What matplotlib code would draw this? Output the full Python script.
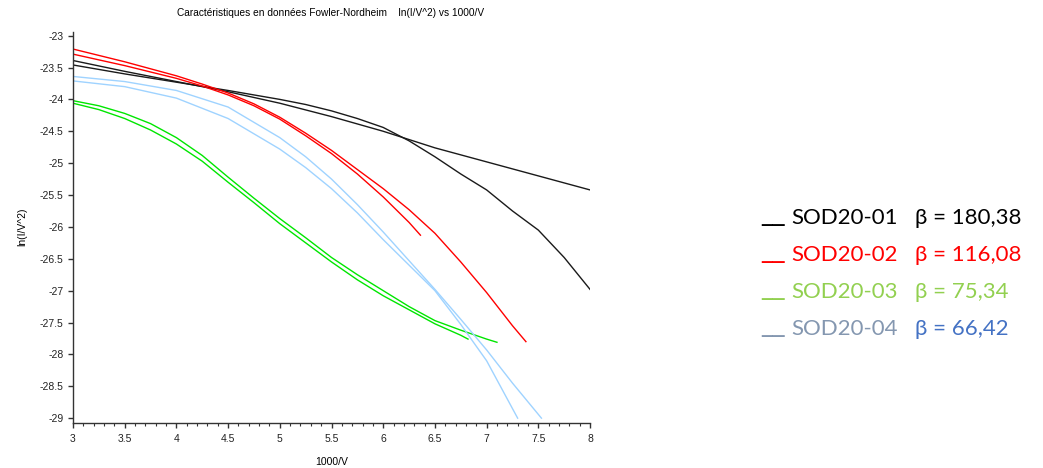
import matplotlib
matplotlib.use("Agg")
import matplotlib.pyplot as plt

# ---- data (1000/V vs ln(I/V^2)) ----
# SOD20-01 (black), two sweeps
x_b1 = [3, 3.5, 4, 4.5, 5, 5.5, 6, 6.5, 7, 7.5, 8]
y_b1 = [-23.39, -23.56, -23.72, -23.88, -24.06, -24.27, -24.5, -24.76, -24.98, -25.2, -25.42]
x_b2 = [3, 3.5, 4, 4.5, 5, 5.25, 5.5, 5.75, 6, 6.25, 6.5, 6.75, 7, 7.25, 7.5, 7.75, 8]
y_b2 = [-23.46, -23.6, -23.73, -23.86, -24.0, -24.08, -24.18, -24.3, -24.44, -24.65, -24.9, -25.17,
        -25.42, -25.75, -26.05, -26.48, -26.98]

# SOD20-02 (red)
x_r1 = [3, 3.25, 3.5, 3.75, 4, 4.25, 4.5, 4.75, 5, 5.25, 5.5, 5.75, 6, 6.25, 6.5, 6.75, 7, 7.25, 7.38]
y_r1 = [-23.21, -23.31, -23.41, -23.52, -23.63, -23.76, -23.9, -24.07, -24.28, -24.53, -24.8, -25.1,
        -25.4, -25.73, -26.1, -26.55, -27.03, -27.55, -27.8]
x_r2 = [3, 3.25, 3.5, 3.75, 4, 4.25, 4.5, 4.75, 5, 5.25, 5.5, 5.75, 6, 6.25, 6.36]
y_r2 = [-23.29, -23.38, -23.47, -23.57, -23.67, -23.79, -23.93, -24.1, -24.31, -24.57, -24.85, -25.17,
        -25.53, -25.93, -26.13]

# SOD20-03 (green)
x_g1 = [3, 3.25, 3.5, 3.75, 4, 4.25, 4.5, 4.75, 5, 5.25, 5.5, 5.75, 6, 6.25, 6.5, 6.75, 7, 7.1]
y_g1 = [-24.02, -24.1, -24.22, -24.38, -24.6, -24.88, -25.22, -25.55, -25.87, -26.17, -26.48, -26.75,
        -27.0, -27.25, -27.47, -27.62, -27.76, -27.81]
x_g2 = [3, 3.25, 3.5, 3.75, 4, 4.25, 4.5, 4.75, 5, 5.25, 5.5, 5.75, 6, 6.25, 6.5, 6.75, 6.82]
y_g2 = [-24.06, -24.16, -24.3, -24.48, -24.7, -24.97, -25.3, -25.62, -25.95, -26.25, -26.55, -26.83,
        -27.08, -27.3, -27.52, -27.7, -27.76]

# SOD20-04 (light blue)
x_c1 = [3, 3.5, 4, 4.5, 5, 5.25, 5.5, 5.75, 6, 6.25, 6.5, 6.75, 7, 7.25, 7.53]
y_c1 = [-23.64, -23.72, -23.86, -24.12, -24.6, -24.9, -25.25, -25.65, -26.08, -26.53, -26.98, -27.45,
        -27.93, -28.45, -29.0]
x_c2 = [3, 3.5, 4, 4.5, 5, 5.25, 5.5, 5.75, 6, 6.25, 6.5, 6.75, 7, 7.15, 7.3]
y_c2 = [-23.71, -23.8, -23.98, -24.3, -24.78, -25.07, -25.4, -25.78, -26.2, -26.6, -27.0, -27.53,
        -28.1, -28.55, -29.0]

labels = ["SOD20-01", "SOD20-02", "SOD20-03", "SOD20-04"]
betas = ["β = 180,38", "β = 116,08", "β = 75,34", "β = 66,42"]
label_colors = ["#000000", "#ff0000", "#92d050", "#8497b0"]
beta_colors = ["#000000", "#ff0000", "#92d050", "#4472c4"]

fig = plt.figure(figsize=(10.43, 4.68), dpi=100)
ax = fig.add_axes([0.070, 0.097, 0.4957, 0.835])

ax.plot(x_b1, y_b1, color="#1a1a1a", lw=1)
ax.plot(x_b2, y_b2, color="#1a1a1a", lw=1)
ax.plot(x_r1, y_r1, color="#ff0000", lw=1)
ax.plot(x_r2, y_r2, color="#ff0000", lw=1)
ax.plot(x_g1, y_g1, color="#00e600", lw=1)
ax.plot(x_g2, y_g2, color="#00e600", lw=1)
ax.plot(x_c1, y_c1, color="#9fd3ff", lw=1)
ax.plot(x_c2, y_c2, color="#9fd3ff", lw=1)

ax.set_xlim(3, 8)
ax.set_ylim(-29.07, -22.94)
ax.set_xticks([3, 3.5, 4, 4.5, 5, 5.5, 6, 6.5, 7, 7.5, 8])
ax.set_xticklabels(["3", "3.5", "4", "4.5", "5", "5.5", "6", "6.5", "7", "7.5", "8"])
ax.set_xticks([3 + 0.1 * i for i in range(51)], minor=True)
ax.set_yticks([-29, -28.5, -28, -27.5, -27, -26.5, -26, -25.5, -25, -24.5, -24, -23.5, -23])
ax.set_yticklabels(["-29", "-28.5", "-28", "-27.5", "-27", "-26.5", "-26", "-25.5", "-25",
                    "-24.5", "-24", "-23.5", "-23"])
ax.spines["top"].set_visible(False)
ax.spines["right"].set_visible(False)
for s in ["left", "bottom"]:
    ax.spines[s].set_color("#333333")
    ax.spines[s].set_linewidth(1)
ax.tick_params(axis="both", which="major", direction="out", length=3.5, width=1,
               color="#333333", labelsize=7.5, labelcolor="#222222")
ax.tick_params(axis="x", which="minor", direction="out", length=2, width=0.8, color="#333333")
ax.tick_params(axis="x", pad=5)
for t in ax.get_xticklabels() + ax.get_yticklabels():
    t.set_family("Liberation Sans")

ax.set_xlabel("1000/V", fontsize=7.5, family="Liberation Sans", labelpad=9)
ax.set_ylabel("ln(I/V^2)", fontsize=7.5, family="Liberation Sans", labelpad=9)
fig.text(0.317, 0.972, "Caractéristiques en données Fowler-Nordheim    ln(I/V^2) vs 1000/V",
         ha="center", va="center", fontsize=7.3, family="Liberation Sans")

# annotation block on the right
row_y = [0.522, 0.443, 0.363, 0.284]
for i in range(4):
    fig.text(0.730, row_y[i] + 0.008, "__", color=label_colors[i], fontsize=17,
             family="DejaVu Sans", va="baseline")
    fig.text(0.759, row_y[i], labels[i], color=label_colors[i], fontsize=16, family="Lato",
             va="baseline")
    fig.text(0.877, row_y[i], betas[i], color=beta_colors[i], fontsize=16, family="Lato",
             va="baseline")

fig.savefig("out.png", dpi=100)
